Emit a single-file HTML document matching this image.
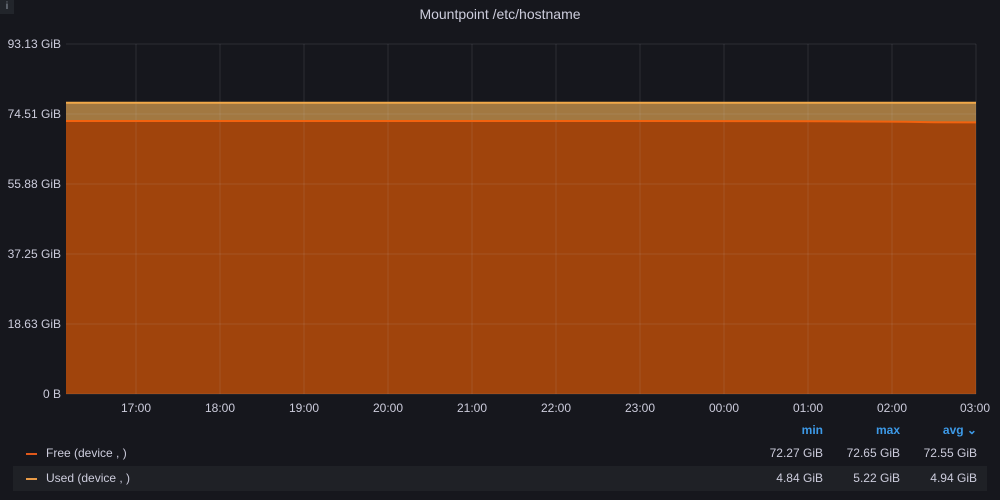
<!DOCTYPE html>
<html><head><meta charset="utf-8">
<style>
body{margin:0;background:#111217;font-family:"Liberation Sans",sans-serif;}
#panel{position:relative;width:1000px;height:500px;background:#16171d;overflow:hidden;color:#ccccdc;}
.title{position:absolute;top:6px;left:0;width:1000px;text-align:center;font-size:14px;color:#ccccdc;}
.info{position:absolute;left:0;top:0;width:14px;height:14px;background:#22252b;color:#9fa7b3;font-size:10px;text-align:center;line-height:14px;}
.lg{position:absolute;left:13px;width:974px;height:25px;font-size:12px;line-height:25px;}
.lg .sw{position:absolute;left:13px;top:12px;width:11px;height:2px;}
.lg .nm{position:absolute;left:33px;}
.lg .v{position:absolute;width:80px;text-align:right;}
.hd{color:#3d9ae8;font-weight:bold;}
</style></head><body>
<div id="panel">
<div class="info">i</div>
<div class="title">Mountpoint /etc/hostname</div>
<svg id="chart" width="1000" height="420" style="position:absolute;left:0;top:0"></svg>
<div class="lg" style="top:418px">
 <span class="v hd" style="left:730px">min</span>
 <span class="v hd" style="left:807px">max</span>
 <span class="v hd" style="left:884px">avg ⌄</span>
</div>
<div class="lg" style="top:441px">
 <span class="sw" style="background:#e0581a"></span><span class="nm">Free (device , )</span>
 <span class="v" style="left:730px">72.27 GiB</span><span class="v" style="left:807px">72.65 GiB</span><span class="v" style="left:884px">72.55 GiB</span>
</div>
<div class="lg" style="top:466px;background:#1f2126">
 <span class="sw" style="background:#e89b48"></span><span class="nm">Used (device , )</span>
 <span class="v" style="left:730px">4.84 GiB</span><span class="v" style="left:807px">5.22 GiB</span><span class="v" style="left:884px">4.94 GiB</span>
</div>
</div>
<script>
// minutes since 16:10
const times=[0,60,120,180,240,300,360,420,480,540,570,600,620,650];
const freeVals=[72.65,72.65,72.64,72.64,72.64,72.63,72.63,72.63,72.62,72.58,72.52,72.45,72.32,72.27];
const usedVals=[4.84,4.84,4.85,4.85,4.85,4.86,4.86,4.86,4.87,4.91,4.97,5.04,5.17,5.22];
const yTicks=[0,18.63,37.25,55.88,74.51,93.13];
const yLabels=["0 B","18.63 GiB","37.25 GiB","55.88 GiB","74.51 GiB","93.13 GiB"];
const xTickMins=[50,110,170,230,290,350,410,470,530,590,650];
const xLabels=["17:00","18:00","19:00","20:00","21:00","22:00","23:00","00:00","01:00","02:00","03:00"];
const X0=66,X1=976,Y0=394,Y1=44,TMAX=650,VMAX=93.13;
const sx=t=>X0+(X1-X0)*t/TMAX, sy=v=>Y0-(Y0-Y1)*v/VMAX;
const svg=document.getElementById('chart'),NS='http://www.w3.org/2000/svg';
function mk(tag,at,txt){const e=document.createElementNS(NS,tag);for(const k in at)e.setAttribute(k,at[k]);if(txt!==undefined)e.textContent=txt;svg.appendChild(e);return e;}
const freeTop=times.map((t,i)=>[sx(t),sy(freeVals[i])]);
const totTop=times.map((t,i)=>[sx(t),sy(freeVals[i]+usedVals[i])]);
const pts=a=>a.map(p=>p.join(',')).join(' ');
const fa=mk('polygon',{points:pts(freeTop)+` ${X1},${Y0} ${X0},${Y0}`,fill:'#a0440c'});


const ua=mk('polygon',{points:pts(totTop)+' '+pts(freeTop.slice().reverse()),fill:'#a27841'});


yTicks.forEach((v,i)=>{
 const g=mk('line',{x1:X0,x2:X1,y1:sy(v),y2:sy(v),stroke:'rgba(204,204,220,0.12)'});
 
 
 const t=mk('text',{x:61,y:sy(v)+4,'text-anchor':'end','font-size':12,fill:'#ccccdc','font-family':'Liberation Sans'},yLabels[i]);
 
 
});
xTickMins.forEach((m,i)=>{
 const g=mk('line',{x1:sx(m),x2:sx(m),y1:Y1,y2:Y0,stroke:'rgba(204,204,220,0.12)'});
 
 
 const t=mk('text',{x:sx(m),y:412,'text-anchor':i==xTickMins.length-1?'end':'middle','font-size':12,fill:'#ccccdc','font-family':'Liberation Sans'},xLabels[i]);
 if(i==xTickMins.length-1)t.setAttribute('x',X1+14);
 
 
});
const fl=mk('polyline',{points:pts(freeTop),fill:'none',stroke:'#f2620e','stroke-width':2});


const ul=mk('polyline',{points:pts(totTop),fill:'none',stroke:'#f2a94a','stroke-width':2});


</script>
</body></html>
